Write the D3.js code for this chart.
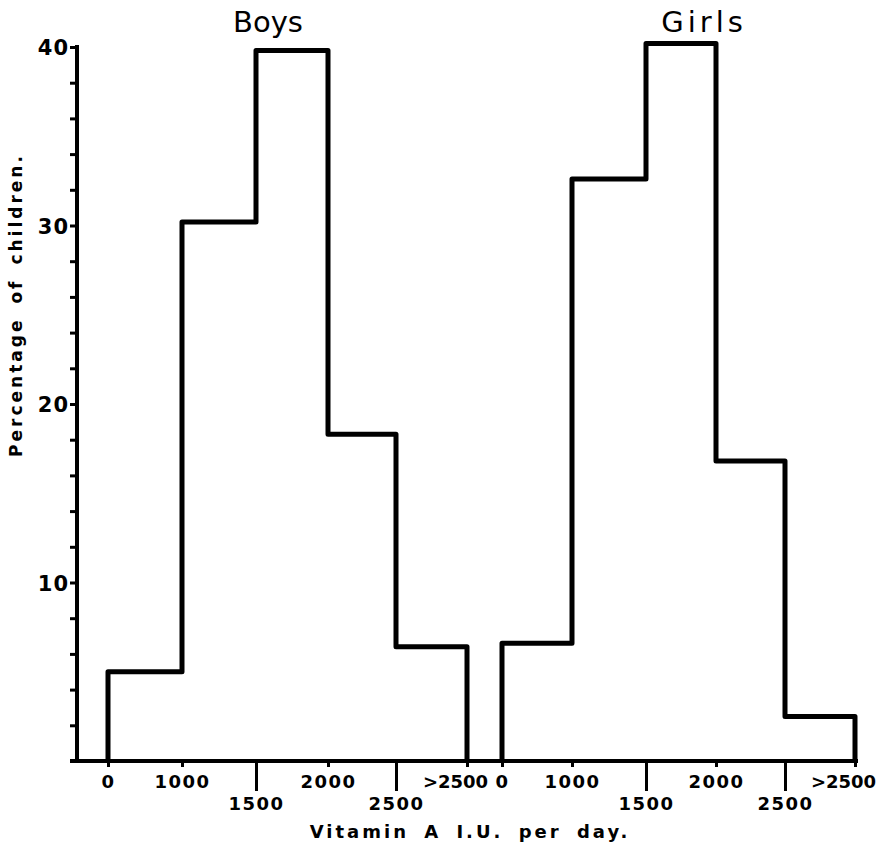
<!DOCTYPE html>
<html>
<head>
<meta charset="utf-8">
<script src="https://cdn.jsdelivr.net/npm/d3@7/dist/d3.min.js"></script>
<style>
  body { margin: 0; background: #fff; }
  svg { display: block; }
  text { font-family: "DejaVu Sans", sans-serif; fill: #000; }
</style>
</head>
<body>
<div id="chart"></div>
<script>
// bin edges (I.U. per day) and percentages per bin
var edgeLabels = ["0", "1000", "1500", "2000", "2500", ">2500"];
var lowRow = ["1500", "2500"];               // labels drawn on the second row
var boys = [5.0, 30.2, 39.8, 18.3, 6.4];
var girls = [6.6, 32.6, 40.2, 16.8, 2.5];
var yMajor = [10, 20, 30, 40];
var yMinor = d3.range(2, 41, 2);

var W = 885, H = 847;
var svg = d3.select("#chart").append("svg").attr("width", W).attr("height", H);

var y = d3.scaleLinear().domain([0, 40]).range([761, 47]);
var edges = d3.range(0, 6);

var panels = [
  { name: "Boys", data: boys, x: d3.scaleLinear().domain(edges).range([108, 182, 256, 328, 396, 467]), titleX: 268, spacing: 0 },
  { name: "Girls", data: girls, x: d3.scaleLinear().domain(edges).range([502, 572, 646, 716, 785, 855]), titleX: 704, spacing: 4 }
];

// y axis
var yAxis = svg.append("g")
  .attr("transform", "translate(77,0)")
  .call(d3.axisLeft(y)
    .tickValues(yMinor)
    .tickSize(7)
    .tickPadding(1)
    .tickFormat(function(d) { return yMajor.indexOf(d) >= 0 ? d : ""; }));
yAxis.select(".domain").attr("d", "M0," + (y(0) + 2) + "V" + (y(40) - 2))
  .attr("stroke", "#000").attr("stroke-width", 4);
yAxis.selectAll(".tick line").attr("stroke", "#000").attr("stroke-width", 3);
yAxis.selectAll(".tick text")
  .attr("font-size", 21).attr("font-weight", "bold").attr("letter-spacing", 1).attr("dy", "0.36em");

// baseline
svg.append("line")
  .attr("x1", 70).attr("x2", 858)
  .attr("y1", y(0)).attr("y2", y(0))
  .attr("stroke", "#000").attr("stroke-width", 4);

var line = d3.line();

panels.forEach(function(p) {
  var pts = [[0, 0]];
  p.data.forEach(function(v, i) { pts.push([i, v]); pts.push([i + 1, v]); });
  pts.push([p.data.length, 0]);

  svg.append("path")
    .attr("d", line(pts.map(function(d) { return [p.x(d[0]), y(d[1])]; })))
    .attr("fill", "none")
    .attr("stroke", "#000")
    .attr("stroke-width", 5)
    .attr("stroke-linejoin", "round");

  var ax = svg.append("g")
    .attr("transform", "translate(0," + y(0) + ")")
    .call(d3.axisBottom(p.x)
      .tickValues(edges)
      .tickSize(6)
      .tickFormat(function(i) { return edgeLabels[i]; }));
  ax.select(".domain").remove();
  ax.selectAll(".tick line")
    .attr("stroke", "#000").attr("stroke-width", 3)
    .attr("y2", function(i) { return lowRow.indexOf(edgeLabels[i]) >= 0 ? 30 : 6; });
  ax.selectAll(".tick text")
    .attr("font-size", 18).attr("font-weight", "bold")
    .attr("letter-spacing", function(i) { return i === 5 ? 0 : 1.5; })
    .attr("y", function(i) { return lowRow.indexOf(edgeLabels[i]) >= 0 ? 36 : 14; })
    .attr("dx", function(i) { return i === 5 ? -12 : 0; });

  svg.append("text")
    .attr("x", p.titleX).attr("y", 32)
    .attr("text-anchor", "middle")
    .attr("font-size", 29)
    .attr("letter-spacing", p.spacing)
    .text(p.name);
});

// axis titles
svg.append("text")
  .attr("x", 470).attr("y", 838)
  .attr("text-anchor", "middle")
  .attr("font-size", 18).attr("font-weight", "bold")
  .attr("letter-spacing", 3).attr("word-spacing", 6)
  .text("Vitamin A I.U. per day.");

svg.append("text")
  .attr("transform", "translate(22,305) rotate(-90)")
  .attr("text-anchor", "middle")
  .attr("font-size", 17).attr("font-weight", "bold")
  .attr("letter-spacing", 3).attr("word-spacing", 5)
  .text("Percentage of children.");
</script>
</body>
</html>
